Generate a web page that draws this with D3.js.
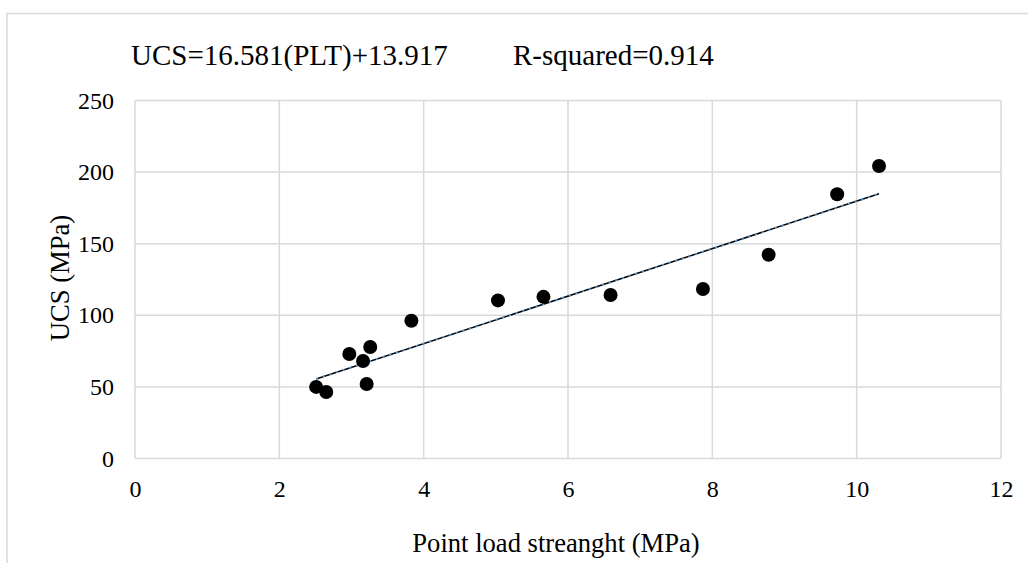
<!DOCTYPE html>
<html>
<head>
<meta charset="utf-8">
<script src="https://cdn.jsdelivr.net/npm/d3@7"></script>
<style>
  body { margin: 0; background: #fff; }
  text { font-family: "Liberation Serif", "Times New Roman", serif; fill: #000; }
</style>
</head>
<body>
<div id="chart"></div>
<script>
// données
const plt = [2.51, 2.65, 2.97, 3.16, 3.21, 3.26, 3.83, 5.03, 5.66, 6.59, 7.87, 8.78, 9.73, 10.31];
const ucs = [50.0, 46.4, 73.0, 68.1, 52.0, 77.9, 96.2, 110.4, 112.9, 114.2, 118.4, 142.3, 184.5, 204.3];
const xTicks = [0, 2, 4, 6, 8, 10, 12];
const yTicks = [0, 50, 100, 150, 200, 250];
const slope = 16.581, intercept = 13.917, r2 = 0.914;

const W = 1028, H = 563;
const margin = { top: 100.5, right: 27, bottom: 104.5, left: 135 },
    width = W - margin.left - margin.right,
    height = H - margin.top - margin.bottom;

const svgRoot = d3.select("#chart").append("svg")
    .attr("width", W)
    .attr("height", H);

// cadre extérieur
svgRoot.append("rect")
    .attr("x", 7).attr("y", 13.5)
    .attr("width", 1100).attr("height", 700)
    .attr("fill", "none")
    .attr("stroke", "#d9d9d9")
    .attr("stroke-width", 1.5);

const svg = svgRoot.append("g")
    .attr("transform", `translate(${margin.left}, ${margin.top})`);

const x = d3.scaleLinear().domain([0, 12]).range([0, width]);
const y = d3.scaleLinear().domain([0, 250]).range([height, 0]);

// grille
svg.append("g").selectAll("line")
    .data(xTicks)
    .join("line")
    .attr("x1", d => x(d)).attr("x2", d => x(d))
    .attr("y1", 0).attr("y2", height)
    .attr("stroke", "#d9d9d9").attr("stroke-width", 1.5);

svg.append("g").selectAll("line")
    .data(yTicks)
    .join("line")
    .attr("x1", 0).attr("x2", width)
    .attr("y1", d => y(d)).attr("y2", d => y(d))
    .attr("stroke", "#d9d9d9").attr("stroke-width", 1.5);

// axes
const xAxis = svg.append("g")
    .attr("transform", `translate(0, ${height})`)
    .attr("font-family", null)
    .call(d3.axisBottom(x).tickValues(xTicks).tickSize(0).tickPadding(21).tickFormat(d3.format("d")));
xAxis.attr("font-family", "Liberation Serif");
xAxis.select(".domain").remove();
xAxis.selectAll("text").style("font-size", "24px").style("font-family", "Liberation Serif");

const yAxis = svg.append("g")
    .call(d3.axisLeft(y).tickValues(yTicks).tickSize(0).tickPadding(21).tickFormat(d3.format("d")));
yAxis.attr("font-family", "Liberation Serif");
yAxis.select(".domain").remove();
yAxis.selectAll("text").style("font-size", "24px").style("font-family", "Liberation Serif");

// titres des axes
svg.append("text")
    .attr("x", 556 - margin.left)
    .attr("y", 551.5 - margin.top)
    .attr("text-anchor", "middle")
    .style("font-size", "26.6px")
    .text("Point load streanght (MPa)");

svg.append("text")
    .attr("transform", `translate(${69 - margin.left}, ${278 - margin.top}) rotate(-90)`)
    .attr("text-anchor", "middle")
    .style("font-size", "26.6px")
    .text("UCS (MPa)");

// équation
svgRoot.append("text")
    .attr("x", 131).attr("y", 65)
    .style("font-size", "29px")
    .text(`UCS=${slope}(PLT)+${intercept}`);
svgRoot.append("text")
    .attr("x", 513).attr("y", 65)
    .style("font-size", "29px")
    .text(`R-squared=${r2}`);

// droite de régression
const ext = d3.extent(plt);
const trend = ext.map(v => [v, slope * v + intercept]);
const line = d3.line().x(d => x(d[0])).y(d => y(d[1]));
svg.append("path")
    .datum(trend)
    .attr("d", line)
    .attr("stroke", "#000").attr("stroke-width", 1.5).attr("fill", "none");
svg.append("path")
    .datum(trend)
    .attr("d", line)
    .attr("stroke", "#5b9bd5").attr("stroke-width", 2)
    .attr("stroke-dasharray", "2,5").attr("fill", "none");

// points
svg.append("g").selectAll("circle")
    .data(plt.map((v, i) => [v, ucs[i]]))
    .join("circle")
    .attr("cx", d => x(d[0]))
    .attr("cy", d => y(d[1]))
    .attr("r", 7)
    .attr("fill", "#000");
</script>
</body>
</html>
